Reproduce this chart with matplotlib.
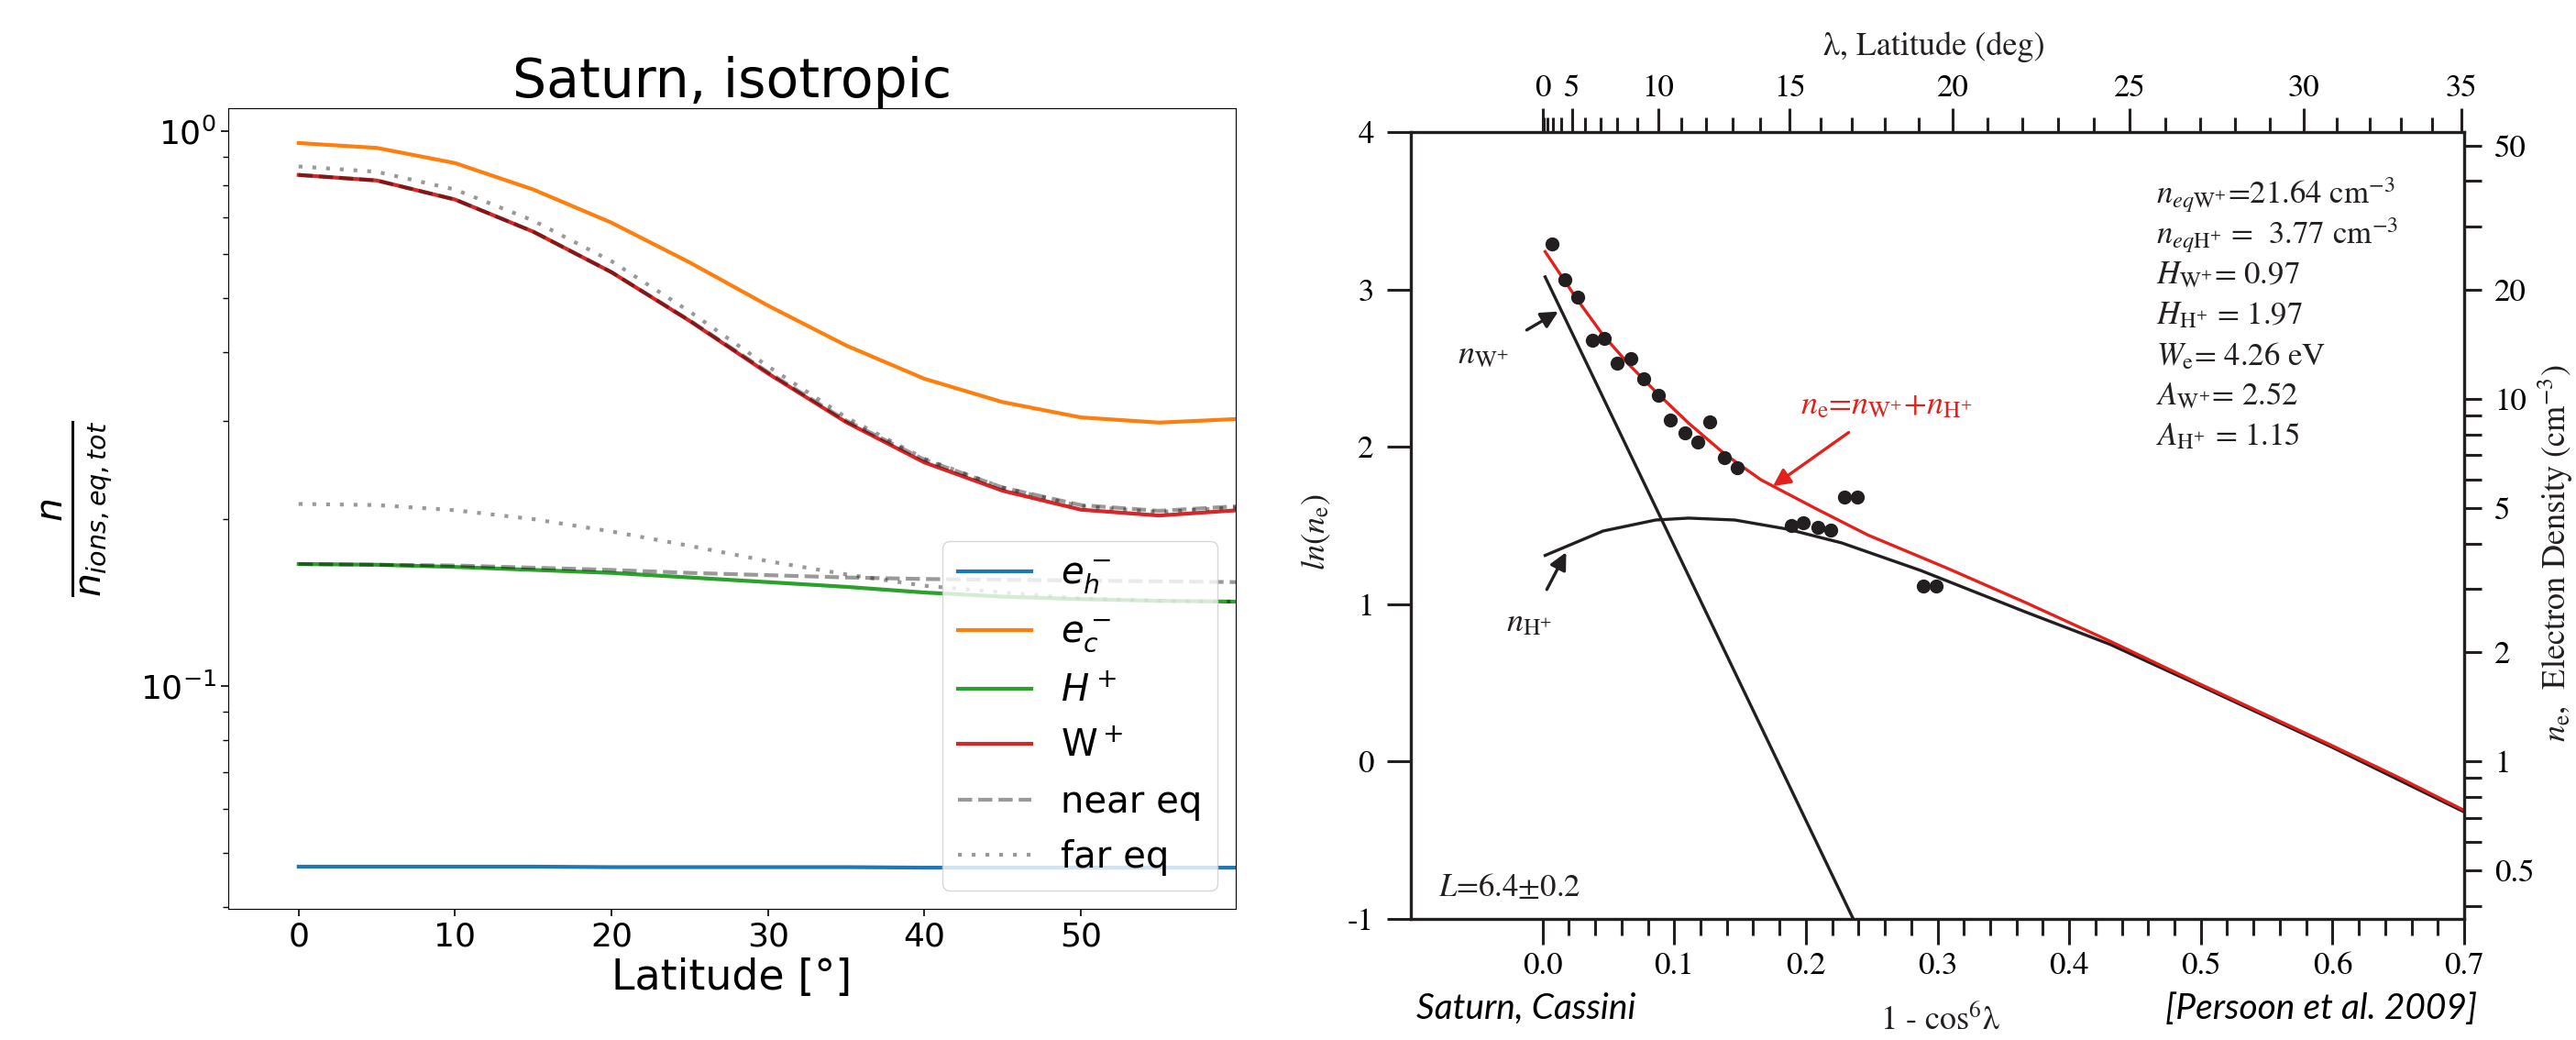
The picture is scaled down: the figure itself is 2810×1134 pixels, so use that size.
import numpy as np
import matplotlib
matplotlib.use("Agg")
import matplotlib.pyplot as plt
from matplotlib.ticker import FixedLocator, NullFormatter

# ---- left panel: density profiles along the field line
lat = [0, 5, 10, 15, 20, 25, 30, 35, 40, 45, 50, 55, 60]
n_eh = [0.0473, 0.0473, 0.0473, 0.0473, 0.0472, 0.0472, 0.0472, 0.0472, 0.0471, 0.0471, 0.0471, 0.0471, 0.0471]
n_ec = [0.952, 0.933, 0.876, 0.785, 0.684, 0.580, 0.485, 0.411, 0.358, 0.325, 0.305, 0.2985, 0.303]
n_H = [0.166, 0.1655, 0.164, 0.162, 0.160, 0.157, 0.154, 0.151, 0.1475, 0.145, 0.1435, 0.1425, 0.142]
n_W = [0.834, 0.815, 0.753, 0.659, 0.557, 0.455, 0.366, 0.299, 0.253, 0.225, 0.208, 0.203, 0.2075]
near_H = [0.166, 0.1655, 0.165, 0.1635, 0.162, 0.160, 0.1585, 0.157, 0.156, 0.1555, 0.155, 0.1545, 0.154]
near_W = [0.834, 0.815, 0.753, 0.659, 0.557, 0.456, 0.368, 0.301, 0.256, 0.228, 0.212, 0.207, 0.211]
far_H = [0.213, 0.212, 0.2075, 0.200, 0.190, 0.179, 0.168, 0.159, 0.1517, 0.1475, 0.144, 0.1425, 0.142]
far_W = [0.864, 0.845, 0.785, 0.690, 0.583, 0.473, 0.377, 0.305, 0.257, 0.228, 0.211, 0.206, 0.210]

# ---- right panel: Cassini data, Persoon et al. 2009
x_obs = [0.007, 0.017, 0.027, 0.038, 0.047, 0.057, 0.067, 0.077, 0.088, 0.097, 0.108, 0.118,
         0.127, 0.138, 0.148, 0.189, 0.198, 0.209, 0.219, 0.229, 0.239, 0.289, 0.299]
ln_obs = [3.29, 3.06, 2.95, 2.68, 2.69, 2.53, 2.56, 2.43, 2.33, 2.17, 2.09, 2.03,
          2.16, 1.93, 1.87, 1.50, 1.52, 1.49, 1.47, 1.68, 1.68, 1.115, 1.115]
x_wfit = [0.002, 0.236]
ln_wfit = [3.08, -1.0]
x_hfit = [0.002, 0.046, 0.086, 0.111, 0.146, 0.186, 0.227, 0.287, 0.367, 0.431, 0.5, 0.6, 0.7]
ln_hfit = [1.31, 1.465, 1.535, 1.547, 1.535, 1.477, 1.39, 1.215, 0.95, 0.745, 0.48, 0.09, -0.32]
x_efit = [0.002, 0.026, 0.046, 0.066, 0.086, 0.111, 0.139, 0.166, 0.207, 0.247, 0.307, 0.367,
          0.431, 0.5, 0.55, 0.6, 0.65, 0.7]
ln_efit = [3.24, 2.94, 2.71, 2.52, 2.35, 2.15, 1.95, 1.79, 1.61, 1.44, 1.23, 1.01,
           0.765, 0.49, 0.295, 0.10, -0.10, -0.31]
lat_major = [0, 5, 10, 15, 20, 25, 30, 35]
ne_major = [0.5, 1, 2, 5, 10, 20, 50]
ne_minor = [0.4, 0.6, 0.7, 0.8, 0.9, 3, 4, 6, 7, 8, 9, 30, 40]
fit_params = [r"$n_{eq\mathrm{W}^{+}}$=21.64 cm$^{-3}$",
              r"$n_{eq\mathrm{H}^{+}}$ =  3.77 cm$^{-3}$",
              r"$H_{\mathrm{W}^{+}}$= 0.97",
              r"$H_{\mathrm{H}^{+}}$ = 1.97",
              r"$W_\mathrm{e}$= 4.26 eV",
              r"$A_{\mathrm{W}^{+}}$= 2.52",
              r"$A_{\mathrm{H}^{+}}$ = 1.15"]

W, H = 2810, 1134
fig = plt.figure(figsize=(W / 100, H / 100), dpi=100)


def box(l, t, r, b):
    return [l / W, 1 - b / H, (r - l) / W, (b - t) / H]


# ================= left panel
ax = fig.add_axes(box(249, 118, 1348, 991))
lw = 3
ax.plot(lat, n_eh, color="#1f77b4", lw=lw, label=r"$e_h^-$")
ax.plot(lat, n_ec, color="#ff7f0e", lw=lw, label=r"$e_c^-$")
ax.plot(lat, n_H, color="#2ca02c", lw=lw, label=r"$H^+$")
ax.plot(lat, n_W, color="#d62728", lw=lw, label=r"W$^+$")
ax.plot(lat, near_H, color="k", alpha=0.4, lw=lw, ls="--", label="near eq")
ax.plot(lat, near_W, color="k", alpha=0.4, lw=lw, ls="--")
ax.plot(lat, far_H, color="k", alpha=0.4, lw=lw, ls=(0, (1, 2.6)), label="far eq")
ax.plot(lat, far_W, color="k", alpha=0.4, lw=lw, ls=(0, (1, 2.6)))
ax.set_yscale("log")
ax.set_xlim(-4.5, 59.9)
ax.set_ylim(0.0397, 1.10)
ax.set_title("Saturn, isotropic", fontsize=42, pad=8)
ax.set_xlabel("Latitude [°]", fontsize=33)
ax.set_ylabel(r"$\frac{n}{n_{ions,eq,tot}}$", fontsize=42)
ax.yaxis.set_label_coords(-0.113, 0.5)
ax.tick_params(labelsize=26, length=6, width=1.2)
ax.tick_params(which="minor", length=4, width=1.0)
ax.legend(loc="lower right", fontsize=29)

# ================= right panel
serif = "STIXGeneral"
dark = "#231f20"
red = "#e3211c"
axr = fig.add_axes(box(1539, 144, 2688, 1002))
axr.plot(x_hfit, ln_hfit, color=dark, lw=2.4)
axr.plot(x_wfit, ln_wfit, color=dark, lw=2.4)
axr.plot(x_efit, ln_efit, color=red, lw=2.4)
axr.plot(x_obs, ln_obs, "o", color=dark, ms=10)
axr.set_xlim(-0.1, 0.7)
axr.set_ylim(-1, 4)
for s in axr.spines.values():
    s.set_linewidth(2.4)
    s.set_color(dark)
xt = np.arange(0, 0.71, 0.1)
axr.set_xticks(xt, labels=[f"{v:.1f}" for v in xt])
axr.set_xticks(np.arange(0, 0.701, 0.02), minor=True)
axr.set_yticks(range(-1, 5), labels=["-1", "0", "1", "2", "3", "4"])
axr.tick_params(axis="x", which="major", length=20, width=2.2, pad=6, labelsize=25,
                labelfontfamily=serif, color=dark)
axr.tick_params(axis="x", which="minor", length=13, width=2.2, color=dark)
axr.tick_params(axis="y", which="major", length=19, width=2.2, pad=10, labelsize=25,
                labelfontfamily=serif, color=dark)

# top axis: latitude in degrees
axt = axr.twiny()
axt.set_xlim(-0.1, 0.7)
axt.set_xticks([1 - np.cos(np.radians(d)) ** 6 for d in lat_major],
               labels=[str(d) for d in lat_major])
axt.xaxis.set_minor_locator(FixedLocator([1 - np.cos(np.radians(d)) ** 6 for d in range(36)]))
axt.tick_params(axis="x", which="major", length=19, width=2.2, pad=3, labelsize=25,
                labelfontfamily=serif, color=dark)
axt.tick_params(axis="x", which="minor", length=11.5, width=2.2, color=dark)
for s in axt.spines.values():
    s.set_visible(False)

# right axis: electron density
axy = axr.twinx()
axy.set_yscale("log")
axy.set_ylim(np.exp(-1), np.exp(4))
axy.yaxis.set_major_locator(FixedLocator(ne_major))
axy.yaxis.set_minor_locator(FixedLocator(ne_minor))
axy.set_yticklabels([f"{v:g}" for v in ne_major])
axy.yaxis.set_minor_formatter(NullFormatter())
axy.tick_params(axis="y", which="both", length=14, width=2.2, pad=10, labelsize=25,
                labelfontfamily=serif, color=dark)
for s in axy.spines.values():
    s.set_visible(False)

# annotations
for i, t in enumerate(fit_params):
    axr.text(0.466, 3.60 - 0.257 * i, t, fontsize=25, family=serif, math_fontfamily="stix",
             va="center", ha="left", color=dark)
axr.text(-0.079, -0.81, r"$L$=6.4±0.2", fontsize=25, family=serif, math_fontfamily="stix",
         va="center", color=dark)
axr.annotate(r"$n_\mathrm{e}$=$n_{\mathrm{W}^{+}}$+$n_{\mathrm{H}^{+}}$", xy=(0.175, 1.75),
             xytext=(0.261, 2.26), fontsize=26, family=serif, math_fontfamily="stix",
             color=red, ha="center", va="center",
             arrowprops=dict(arrowstyle="-|>", color=red, lw=2.4, mutation_scale=28,
                             shrinkA=12, shrinkB=0))
axr.annotate(r"$n_{\mathrm{W}^{+}}$", xy=(0.012, 2.86), xytext=(-0.045, 2.58), fontsize=26,
             family=serif, math_fontfamily="stix", color=dark, ha="center", va="center",
             arrowprops=dict(arrowstyle="-|>", color=dark, lw=2.4, mutation_scale=28,
                             shrinkA=14, shrinkB=0))
axr.annotate(r"$n_{\mathrm{H}^{+}}$", xy=(0.018, 1.33), xytext=(-0.010, 0.88), fontsize=26,
             family=serif, math_fontfamily="stix", color=dark, ha="center", va="center",
             arrowprops=dict(arrowstyle="-|>", color=dark, lw=2.4, mutation_scale=28,
                             shrinkA=14, shrinkB=0))

fig.text(2110 / W, 1 - 51 / H, "λ, Latitude (deg)", ha="center", va="center", fontsize=26,
         family=serif, color=dark)
fig.text(1436 / W, 1 - 580 / H, r"$ln(n_\mathrm{e})$", ha="center", va="center", rotation=90,
         fontsize=26, math_fontfamily="stix", color=dark)
fig.text(2116 / W, 1 - 1112 / H, "1 - cos$^6$λ", ha="center", va="center", fontsize=26,
         family=serif, math_fontfamily="stix", color=dark)
fig.text(2788 / W, 1 - 603 / H, r"$n_\mathrm{e}$,  Electron Density (cm$^{-3}$)", ha="center",
         va="center", rotation=90, fontsize=26, family=serif, math_fontfamily="stix", color=dark)
fig.text(1545 / W, 1 - 1100 / H, "Saturn, Cassini", ha="left", va="center", fontsize=28,
         family="Lato", style="italic", color="black")
fig.text(2702 / W, 1 - 1100 / H, "[Persoon et al. 2009]", ha="right", va="center", fontsize=28,
         family="Lato", style="italic", color="black")

fig.savefig("out.png", dpi=100, facecolor="white")
